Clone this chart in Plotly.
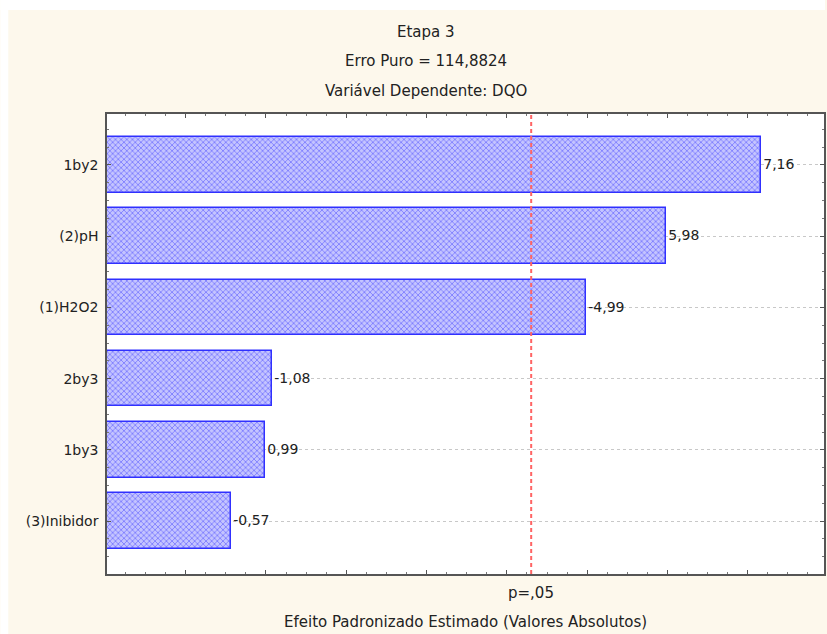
import plotly.graph_objects as go

# Pareto chart of standardized effects
categories = ["1by2", "(2)pH", "(1)H2O2", "2by3", "1by3", "(3)Inibidor"]
effects = [7.16, 5.98, -4.99, -1.08, 0.99, -0.57]
labels = ["7,16", "5,98", "-4,99", "-1,08", "0,99", "-0,57"]
t_crit = 4.303          # p = .05 reference value
title_lines = ["Etapa 3", "Erro Puro = 114,8824", "Variável Dependente: DQO"]
x_title = "Efeito Padronizado Estimado (Valores Absolutos)"
p_label = "p=,05"

X_MIN, X_MAX = -0.98, 7.95
CREAM = "#fdf8ec"
FONT = "DejaVu Sans, Liberation Sans, sans-serif"
TXT = "#222222"

positions = list(range(len(categories)))
abs_eff = [abs(v) for v in effects]

fig = go.Figure()
fig.add_trace(go.Bar(
    orientation="h",
    y=positions,
    x=[a - X_MIN for a in abs_eff],
    base=X_MIN,
    width=0.78,
    text=labels,
    textposition="outside",
    cliponaxis=False,
    constraintext="none",
    textfont=dict(family=FONT, size=14, color=TXT),
    marker=dict(
        color="#c4c4ff",
        line=dict(color="#3030ff", width=1.5),
        pattern=dict(shape="x", fgcolor="#3a3aff", size=4, solidity=0.4,
                     fillmode="overlay"),
    ),
    hoverinfo="skip",
))

# critical value line
fig.add_shape(type="line", xref="x", yref="paper", x0=t_crit, x1=t_crit,
              y0=0, y1=1, line=dict(color="#ff6464", width=2, dash="4px,3px"))

# white strips around the cream backdrop
PW = 827 - 107 - 1
PH = 574 - 114
def px_x(p):
    return (p - 107) / PW
def px_y(p):
    return (574 - p) / PH

fig.add_shape(type="rect", xref="paper", yref="paper", x0=px_x(0), x1=px_x(8),
              y0=px_y(634), y1=px_y(0), fillcolor="white", line_width=0, layer="below")
fig.add_shape(type="rect", xref="paper", yref="paper", x0=px_x(0), x1=px_x(827),
              y0=px_y(10), y1=px_y(0), fillcolor="white", line_width=0, layer="below")

for line, ypix in zip(title_lines, [32, 61, 91]):
    fig.add_annotation(text=line, xref="paper", yref="paper", x=px_x(427), y=px_y(ypix),
                       showarrow=False, xanchor="center", yanchor="middle",
                       font=dict(family=FONT, size=15, color=TXT))

fig.add_annotation(text=p_label, xref="x", yref="paper", x=t_crit, y=px_y(593),
                   showarrow=False, xanchor="center", yanchor="middle",
                   font=dict(family=FONT, size=15, color=TXT))
fig.add_annotation(text=x_title, xref="paper", yref="paper", x=0.5, y=px_y(633),
                   showarrow=False, xanchor="center", yanchor="bottom",
                   font=dict(family=FONT, size=15, color=TXT))

axis_line = dict(showline=True, linecolor="#555555", linewidth=1.5, mirror="ticks",
                 ticks="inside", ticklen=4, tickcolor="#555555", zeroline=False)

fig.update_xaxes(range=[X_MIN, X_MAX], tick0=0, dtick=1, showticklabels=False,
                 showgrid=False,
                 minor=dict(dtick=0.25, tick0=0, ticks="inside", ticklen=2,
                            tickcolor="#777777", showgrid=False),
                 **axis_line)
fig.update_yaxes(range=[5.744, -0.716], tickmode="array", tickvals=positions,
                 ticktext=categories, showgrid=True, gridcolor="#c8c8c8",
                 griddash="dot", gridwidth=1, ticklabelstandoff=4,
                 tickfont=dict(family=FONT, size=14, color=TXT),
                 minor=dict(tickmode="linear", tick0=0, dtick=0.25, ticks="inside",
                            ticklen=2, tickcolor="#777777", showgrid=False),
                 **axis_line)

fig.update_layout(
    width=827, height=634,
    margin=dict(l=107, r=1, t=114, b=60),
    paper_bgcolor=CREAM, plot_bgcolor="white",
    showlegend=False, bargap=0,
    font=dict(family=FONT, color=TXT),
)

fig.write_html("out.html")
